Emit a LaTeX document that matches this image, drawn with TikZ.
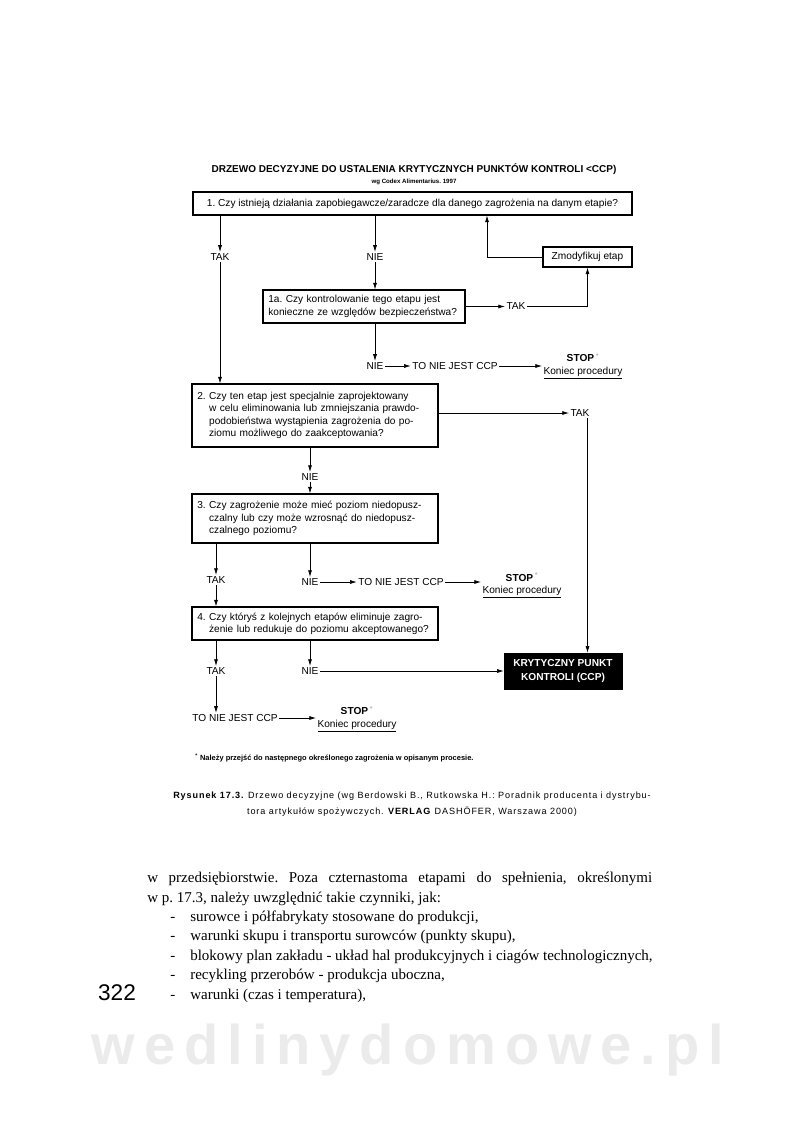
\documentclass[tikz,border=0pt]{standalone}
\usepackage{fontspec}
\setmainfont{Liberation Serif}
\setsansfont{Liberation Sans}
\newfontfamily\spacedsans[LetterSpace=10]{Liberation Sans}
\newfontfamily\markfont[LetterSpace=16]{Liberation Sans}
\usetikzlibrary{positioning, arrows.meta, calc}
\newcommand{\bodyfont}{\rmfamily\fontsize{11.25}{14.6}\selectfont}
\tikzset{
  qbox/.style={draw, line width=0.8pt, inner xsep=4pt, inner ysep=0pt, align=left},
  lbl/.style={inner sep=1pt},
  stopbox/.style={align=center, inner sep=1pt},
  link/.style={line width=0.5pt, -{Latex[length=5pt,width=3pt]}},
  bodyline/.style={anchor=base west, inner sep=0pt, font=\bodyfont},
}

\begin{document}
\frenchspacing
\begin{tikzpicture}[x=0.75pt, y=-0.75pt, font=\sffamily\fontsize{7.6}{9.2}\selectfont]
  \useasboundingbox (0,0) rectangle (800,1141);

  \node[font=\sffamily\bfseries\fontsize{7.5}{8}\selectfont] (title) at (414,169)
    {DRZEWO DECYZYJNE DO USTALENIA KRYTYCZNYCH PUNKTÓW KONTROLI <CCP)};
  \node[font=\sffamily\bfseries\fontsize{4.6}{5}\selectfont] (source) at (414,182) {wg Codex Alimentarius. 1997};

  \node[qbox, minimum width=329.25pt, minimum height=17.25pt, align=center] (q1) at (412.5,203.5)
    {1. Czy istnieją działania zapobiegawcze/zaradcze dla danego zagrożenia na danym etapie?};
  \node[qbox, text width=143.5pt, minimum height=24.75pt] (q1a) at (364,306.5)
    {1a. Czy kontrolowanie tego etapu jest\\konieczne ze względów bezpieczeństwa?};
  \node[qbox, minimum width=66.75pt, minimum height=15pt, align=center] (zm) at (587.5,257) {Zmodyfikuj etap};
  \node[qbox, text width=176.5pt, minimum height=47.25pt] (q2) at (315,415.5)
    {2. Czy ten etap jest specjalnie zaprojektowany\\\phantom{2. }w celu eliminowania lub zmniejszania prawdo-\\\phantom{2. }podobieństwa wystąpienia zagrożenia do po-\\\phantom{2. }ziomu możliwego do zaakceptowania?};
  \node[qbox, text width=176.5pt, minimum height=36.75pt] (q3) at (315,518.5)
    {3. Czy zagrożenie może mieć poziom niedopusz-\\\phantom{3. }czalny lub czy może wzrosnąć do niedopusz-\\\phantom{3. }czalnego poziomu?};
  \node[qbox, text width=176.5pt, minimum height=24.75pt] (q4) at (315,623.5)
    {4. Czy któryś z kolejnych etapów eliminuje zagro-\\\phantom{4. }żenie lub redukuje do poziomu akceptowanego?};
  \node[draw, fill=black, text=white, font=\sffamily\bfseries\fontsize{7.6}{10.5}\selectfont, align=center,
    minimum width=88.5pt, minimum height=27pt, inner sep=0pt] (ccp) at (563,671) {KRYTYCZNY PUNKT\\KONTROLI (CCP)};

  \node[lbl] (tak1) at (220,257) {TAK};
  \node[lbl] (nie1) at (375,257) {NIE};
  \node[lbl] (tak1a) at (516,306.5) {TAK};
  \node[lbl] (nie1a) at (375,366) {NIE};
  \node[lbl] (notccp1a) at (455,366) {TO NIE JEST CCP};
  \node[stopbox] (stop1a) at (583,366) {\textbf{STOP}\,\textsuperscript{\color{black!40}*}\\\underline{Koniec procedury}};
  \node[lbl] (tak2) at (580,413) {TAK};
  \node[lbl] (nie2) at (310,477) {NIE};
  \node[lbl] (tak3) at (216,580) {TAK};
  \node[lbl] (nie3) at (310,582) {NIE};
  \node[lbl] (notccp3) at (401,582) {TO NIE JEST CCP};
  \node[stopbox] (stop3) at (522,585.5) {\textbf{STOP}\,\textsuperscript{\color{black!40}*}\\\underline{Koniec procedury}};
  \node[lbl] (tak4) at (216,671) {TAK};
  \node[lbl] (nie4) at (310,671) {NIE};
  \node[lbl] (notccp4) at (235,718) {TO NIE JEST CCP};
  \node[stopbox] (stop4) at (357,719) {\textbf{STOP}\,\textsuperscript{\color{black!40}*}\\\underline{Koniec procedury}};

  \draw[link] (q1.south -| tak1) -- (tak1);
  \draw[link] (tak1) -- (q2.north -| tak1);
  \draw[link] (q1.south -| nie1) -- (nie1);
  \draw[link] (nie1) -- (q1a.north -| nie1);
  \draw[link] (zm.west) -| ($(q1.south)+(74.5,0)$);
  \draw[link] (q1a) -- (tak1a);
  \draw[link] (tak1a) -| (zm);
  \draw[link] (q1a.south -| nie1a) -- (nie1a);
  \draw[link] (nie1a) -- (notccp1a);
  \draw[link] (notccp1a) -- (notccp1a -| stop1a.west);
  \draw[link] (q2.east |- tak2) -- (tak2);
  \draw[link] (tak2.south -| zm) -- (ccp.north -| zm);
  \draw[link] (q2.south -| nie2) -- (nie2);
  \draw[link] (nie2) -- (q3.north -| nie2);
  \draw[link] (q3.south -| tak3) -- (tak3);
  \draw[link] (tak3) -- (q4.north -| tak3);
  \draw[link] (q3.south -| nie3) -- (nie3);
  \draw[link] (nie3) -- (notccp3);
  \draw[link] (notccp3) -- (notccp3 -| stop3.west);
  \draw[link] (q4.south -| tak4) -- (tak4);
  \draw[link] (tak4) -- (notccp4.north -| tak4);
  \draw[link] (notccp4) -- (notccp4 -| stop4.west);
  \draw[link] (q4.south -| nie4) -- (nie4);
  \draw[link] (nie4) -- (nie4 -| ccp.west);

  \node[anchor=west, inner sep=0pt, font=\sffamily\bfseries\fontsize{5.6}{6}\selectfont] (note) at (195,758)
    {\textsuperscript{*} Należy przejść do następnego określonego zagrożenia w opisanym procesie.};
  \node[align=center, inner sep=0pt, font=\spacedsans\fontsize{6.8}{12}\selectfont] (caption) at (412,804)
    {\textbf{Rysunek 17.3.} Drzewo decyzyjne (wg Berdowski B., Rutkowska H.: Poradnik producenta i dystrybu-\\tora artykułów spożywczych. \textbf{VERLAG} DASHÖFER, Warszawa 2000)};

  \node[bodyline] (line1) at (147,882) {\makebox[378.75pt][s]{w przedsiębiorstwie. Poza czternastoma etapami do spełnienia, określonymi}};
  \node[bodyline] (line2) at (147,902) {w p. 17.3, należy uwzględnić takie czynniki, jak:};
  \foreach \txt [count=\k] in {{surowce i półfabrykaty stosowane do produkcji,},
      {warunki skupu i transportu surowców (punkty skupu),},
      {blokowy plan zakładu - układ hal produkcyjnych i ciagów technologicznych,},
      {recykling przerobów - produkcja uboczna,},
      {warunki (czas i temperatura),}} {
    \node[bodyline] (dash\k) at (170,902+19.4*\k) {-};
    \node[bodyline] (item\k) at (190,902+19.4*\k) {\txt};
  }
  \node[font=\sffamily\fontsize{17}{17}\selectfont, inner sep=0pt] (pagenum) at (117,993) {322};
  \node[font=\markfont\bfseries\fontsize{42}{42}\selectfont, text=black!8, inner sep=0pt] (mark) at (408,1050) {wedlinydomowe.pl};
\end{tikzpicture}
\end{document}
